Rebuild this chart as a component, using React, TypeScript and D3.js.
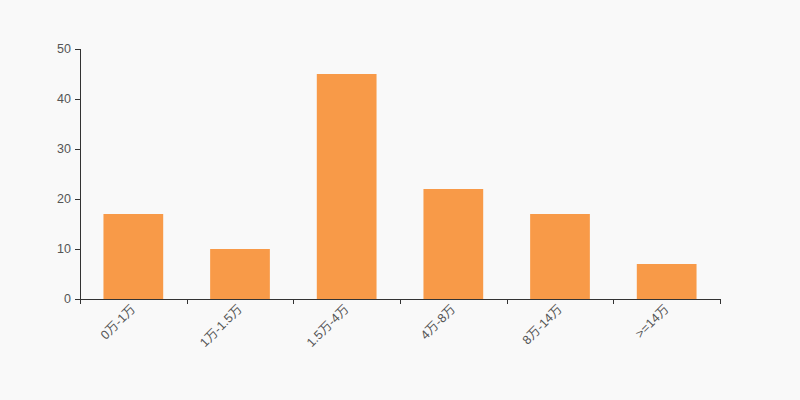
import React from "react";
import * as d3 from "d3";

const categories = ["0万-1万", "1万-1.5万", "1.5万-4万", "4万-8万", "8万-14万", ">=14万"];
const values = [17, 10, 45, 22, 17, 7];
const yTicks = [0, 10, 20, 30, 40, 50];

export default function App() {
  const W = 800, H = 400;
  const left = 80, right = 720, top = 49, bottom = 299;
  const x = d3.scaleBand<string>().domain(categories).range([left, right]).paddingInner(0.44).paddingOuter(0.22);
  const xb = d3.scaleBand<string>().domain(categories).range([left, right]);
  const y = d3.scaleLinear().domain([0, 50]).range([bottom, top]);
  const font = "'Liberation Sans', Arial, 'Noto Sans CJK SC', sans-serif";
  const axisColor = "#333";
  const textColor = "#555";
  const tickEdges = d3.range(categories.length + 1).map(i => left + i * xb.step());
  return (
    <svg width={W} height={H} style={{ display: "block", position: "absolute", left: 0, top: 0, background: "#f9f9f9" }} fontFamily={font}>
      <rect x={0} y={0} width={W} height={H} fill="#f9f9f9" />
      {categories.map((c, i) => (
        <rect key={c} x={x(c)} y={y(values[i])} width={x.bandwidth()} height={y(0) - y(values[i])} fill="#f89a48" />
      ))}
      <line x1={left + 0.5} x2={left + 0.5} y1={top} y2={bottom} stroke={axisColor} />
      {yTicks.map(t => (
        <g key={t}>
          <line x1={left - 5} x2={left} y1={Math.round(y(t)) + 0.5} y2={Math.round(y(t)) + 0.5} stroke={axisColor} />
          <text x={left - 9} y={y(t)} textAnchor="end" dominantBaseline="central" fontSize={12.5} fill={textColor}>{t}</text>
        </g>
      ))}
      <line x1={left} x2={right} y1={bottom + 0.5} y2={bottom + 0.5} stroke={axisColor} />
      {tickEdges.map((tx, i) => (
        <line key={i} x1={Math.round(tx) + 0.5} x2={Math.round(tx) + 0.5} y1={bottom} y2={bottom + 5} stroke={axisColor} />
      ))}
      {categories.map(c => {
        const cx = (xb(c) as number) + xb.bandwidth() / 2;
        const cy = bottom + 8;
        return (
          <text key={c} transform={`translate(${cx},${cy}) rotate(-45)`} textAnchor="end" dominantBaseline="central" fontSize={12.5} fill={textColor}>{c}</text>
        );
      })}
    </svg>
  );
}
